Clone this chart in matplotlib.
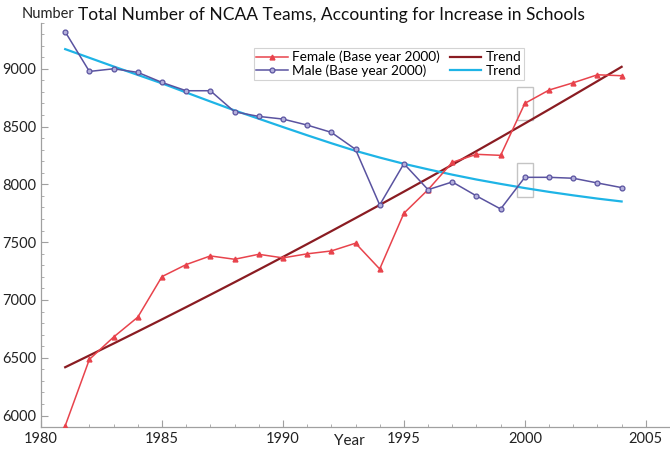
import matplotlib
matplotlib.use("Agg")
import matplotlib.pyplot as plt
from matplotlib.patches import Rectangle
from matplotlib.ticker import MultipleLocator

# --- data ---
years = list(range(1981, 2005))

female = [5911, 6486, 6679, 6851, 7202, 7306, 7381, 7352, 7395, 7364, 7399, 7424,
          7491, 7268, 7750, 7954, 8191, 8260, 8251, 8701, 8816, 8879, 8948, 8940]
male = [9320, 8977, 9000, 8969, 8882, 8810, 8810, 8628, 8588, 8565, 8513, 8450,
        8303, 7822, 8179, 7954, 8021, 7900, 7787, 8061, 8061, 8053, 8012, 7972]

female_trend = [6418, 6520, 6623, 6727, 6832, 6938, 7045, 7153, 7262, 7372, 7483, 7595,
                7708, 7822, 7937, 8053, 8170, 8288, 8407, 8527, 8648, 8770, 8893, 9017]
male_trend = [9170, 9095, 9020, 8947, 8874, 8795, 8717, 8640, 8568, 8496, 8425, 8356,
              8290, 8232, 8178, 8130, 8084, 8042, 8004, 7968, 7935, 7905, 7877, 7852]

# highlighted base year (2000): (y_low, y_high) for each series
base_year = 2000
female_box = (8557, 8839)
male_box = (7891, 8188)

plt.rcParams["font.family"] = ["Lato", "DejaVu Sans"]

fig = plt.figure(figsize=(6.7, 4.51), dpi=100)
ax = fig.add_axes([0.0612, 0.053, 0.9388, 0.897])

red = "#e8434c"
purple = "#5a53a0"
dark_red = "#8a1c22"
cyan = "#1eb4e6"

ax.plot(years, female, color=red, lw=1.1, marker="^", ms=3.5,
        mfc=red, mec=red, label="Female (Base year 2000)", zorder=3)
ax.plot(years, male, color=purple, lw=1.1, marker="o", ms=3.5,
        mfc="#b4b0dc", mec=purple, mew=0.9, label="Male (Base year 2000)", zorder=3)
ax.plot(years, female_trend, color=dark_red, lw=1.6, label="Trend", zorder=2)
ax.plot(years, male_trend, color=cyan, lw=1.6, label="Trend", zorder=2)

for lo, hi in (female_box, male_box):
    ax.add_patch(Rectangle((base_year - 0.33, lo), 0.66, hi - lo, fill=False,
                           ec="#c4c4c4", lw=1.0, zorder=1))

ax.set_xlim(1980, 2006)
ax.set_ylim(5900, 9400)
ax.xaxis.set_major_locator(MultipleLocator(5))
ax.xaxis.set_minor_locator(MultipleLocator(1))
ax.yaxis.set_major_locator(MultipleLocator(500))
ax.yaxis.set_minor_locator(MultipleLocator(100))
ax.set_yticks([6000, 6500, 7000, 7500, 8000, 8500, 9000])

for side in ("top", "right"):
    ax.spines[side].set_visible(False)
for side in ("left", "bottom"):
    ax.spines[side].set_color("#a0a0a0")
    ax.spines[side].set_linewidth(0.9)

ax.tick_params(which="both", direction="in", color="#a0a0a0", labelsize=10.5,
               labelcolor="#222222")
ax.tick_params(which="major", length=5)
ax.tick_params(which="minor", length=2.5)

leg = ax.legend(ncol=2, loc="upper left", bbox_to_anchor=(0.338, 0.937),
                fontsize=9.8, frameon=True, fancybox=False, handlelength=2.3,
                columnspacing=0.7, handletextpad=0.35, borderpad=0.2,
                labelspacing=0.1, borderaxespad=0)
leg.get_frame().set_edgecolor("#c8c8c8")
leg.get_frame().set_linewidth(0.8)

fig.text(0.033, 0.968, "Number", fontsize=10.5, color="#222222", va="center")
fig.text(0.117, 0.966, "Total Number of NCAA Teams, Accounting for Increase in Schools",
         fontsize=12.5, color="#111111", va="center")
fig.text(0.522, 0.022, "Year", fontsize=11, color="#222222", ha="center", va="center")

fig.savefig("out.png", dpi=100)
